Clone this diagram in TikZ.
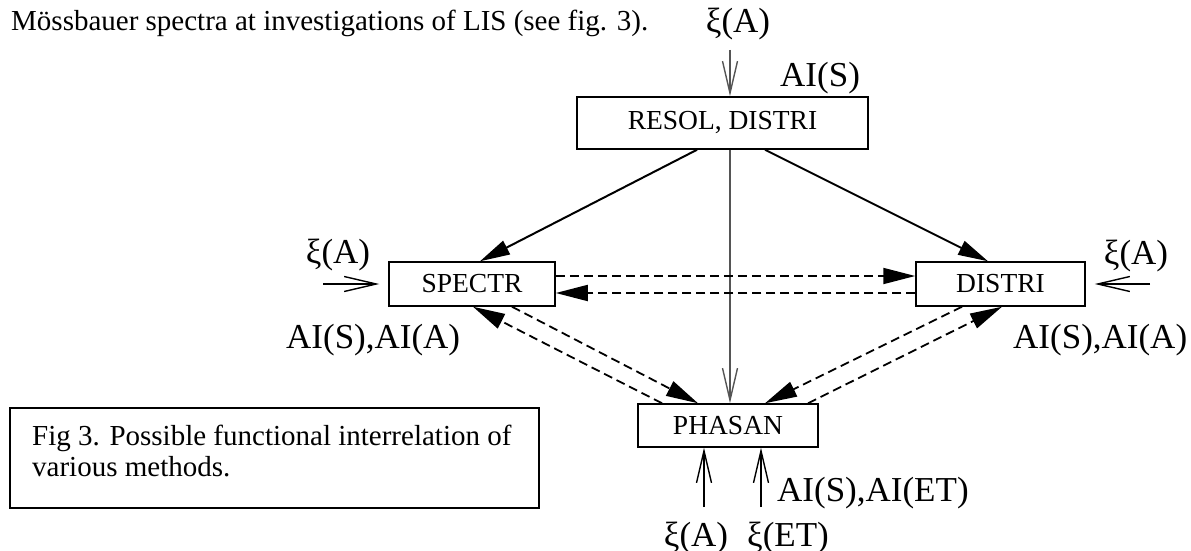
\documentclass[tikz,border=0pt]{standalone}
\usepackage{fontspec}
\setmainfont{Liberation Serif}
\usetikzlibrary{arrows.meta,calc}
\definecolor{midgray}{HTML}{555555}
\begin{document}
\begin{tikzpicture}[x=1pt,y=-1pt,
  box/.style={draw, line width=1.5pt, inner sep=0pt, minimum height=44pt, font=\fontsize{27.5}{27.5}\selectfont},
  lab/.style={inner sep=0pt, font=\fontsize{35}{35}\selectfont},
  body/.style={inner sep=0pt, font=\fontsize{29}{27}\selectfont},
  solidarrow/.style={line width=2pt, -{Triangle[length=30pt,width=15pt]}},
  dasharrow/.style={line width=1.8pt, dash pattern=on 9pt off 5pt, -{Triangle[length=32pt,width=16pt]}},
  openarrow/.style={line width=1.4pt, -{Straight Barb[length=32pt,width=15pt]}},
]
\useasboundingbox (0,0) rectangle (1191,551);

% intro text
\node[body, anchor=base west] (intro) at (11,31) {Mössbauer spectra at investigations of LIS (see fig. 3).};

% boxes
\node[box, minimum width=291pt, minimum height=52pt] (resol) at (722.5,123) {RESOL, DISTRI};
\node[box, minimum width=166pt] (spectr) at (472,284) {SPECTR};
\node[box, minimum width=169pt] (distri) at (1000.5,284) {DISTRI};
\node[box, minimum width=180pt, minimum height=43pt] (phasan) at (728,425.5) {PHASAN};

% caption
\node[draw, line width=2pt, inner sep=0pt, minimum width=529pt, minimum height=100pt, anchor=north west] (capbox) at (9,407) {};
\node[body, anchor=north west, align=left] (captext) at (32,425) {Fig 3. Possible functional interrelation of\\[4pt]various methods.};

% labels
\node[lab, anchor=base] (xiTop) at (738,33) {ξ(A)};
\node[lab, anchor=base west] (aiTop) at (780,86) {AI(S)};
\node[lab, anchor=base] (xiLeft) at (338,263) {ξ(A)};
\node[lab, anchor=base] (xiRight) at (1136,264) {ξ(A)};
\node[lab, anchor=base west] (aiLeft) at (286,348) {AI(S),AI(A)};
\node[lab, anchor=base west] (aiRight) at (1013,348) {AI(S),AI(A)};
\node[lab, anchor=base west] (aiBottom) at (777,501) {AI(S),AI(ET)};
\node[lab, anchor=base] (xiBotA) at (696,546) {ξ(A)};
\node[lab, anchor=base] (xiBotET) at (788,546) {ξ(ET)};

% free ends of input arrows
\coordinate (inTop) at (730,50);
\coordinate (inLeft) at (323,284);
\coordinate (inRight) at (1150,284);
\coordinate (inBotA) at (704,507);
\coordinate (inBotET) at (761,507);

% input arrows
\draw[openarrow, midgray] (inTop) -- (730,0 |- resol.north);
\draw[openarrow] (inLeft) -- ($(spectr.west)+(-9,0)$);
\draw[openarrow] (inRight) -- ($(distri.east)+(9,0)$);
\draw[openarrow] (inBotA) -- (704,0 |- phasan.south);
\draw[openarrow] (inBotET) -- (761,0 |- phasan.south);

% solid connectors
\draw[solidarrow] (697,0 |- resol.south) -- (480,0 |- spectr.north);
\draw[solidarrow] (765,0 |- resol.south) -- (988,0 |- distri.north);
\draw[openarrow, midgray] (730,0 |- resol.south) -- (730,0 |- phasan.north);

% dashed connectors
\draw[dasharrow] (spectr.east |- 0,276) -- (distri.west |- 0,276);
\draw[dasharrow] (distri.west |- 0,293) -- (spectr.east |- 0,293);
\draw[dasharrow] (512,0 |- spectr.south) -- (698,0 |- phasan.north);
\draw[dasharrow] (662,0 |- phasan.north) -- (473,0 |- spectr.south);
\draw[dasharrow] (962,0 |- distri.south) -- (765,0 |- phasan.north);
\draw[dasharrow] (808,0 |- phasan.north) -- (1002,0 |- distri.south);
\end{tikzpicture}
\end{document}
